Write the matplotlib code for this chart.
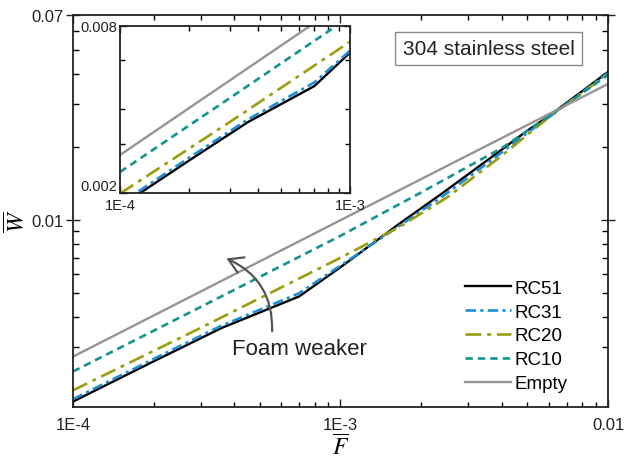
import matplotlib
matplotlib.use('Agg')
import matplotlib.pyplot as plt
from matplotlib.ticker import FixedLocator, NullFormatter, FixedFormatter

plt.rcParams['font.family'] = ['Liberation Sans', 'DejaVu Sans']
plt.rcParams['mathtext.fontset'] = 'stix'

# data (F bar vs W bar)
F_rc51 = [1e-4, 2e-4, 3.6e-4, 5e-4, 7e-4, 1e-3, 1.667e-3, 2.4e-3, 3.6e-3, 5e-3, 6e-3, 1e-2]
W_rc51 = [0.00179, 0.00262, 0.0036, 0.00417, 0.00485, 0.0064, 0.0097, 0.0129, 0.0179, 0.0234, 0.0268, 0.0408]

F_rc31 = [1e-4, 2e-4, 3.6e-4, 5e-4, 7e-4, 1e-3, 1.667e-3, 2.4e-3, 3.6e-3, 5e-3, 6e-3, 1e-2]
W_rc31 = [0.00183, 0.00268, 0.00368, 0.00428, 0.0050, 0.0065, 0.0095, 0.0125, 0.0174, 0.0229, 0.0265, 0.0404]

F_rc20 = [1e-4, 3e-4, 1e-3, 1.667e-3, 2.5e-3, 4e-3, 6e-3, 1e-2]
W_rc20 = [0.00199, 0.0036, 0.0070, 0.0094, 0.0124, 0.0184, 0.0265, 0.0400]

F_rc10 = [1e-4, 3e-4, 1e-3, 2e-3, 4e-3, 6e-3, 1e-2]
W_rc10 = [0.00238, 0.00439, 0.00862, 0.0130, 0.0198, 0.0267, 0.0396]

F_empty = [1e-4, 1e-3, 1e-2]
W_empty = [0.00274, 0.0100, 0.0364]

series = [
    ('RC51', F_rc51, W_rc51, '#000000', '-', 1.7),
    ('RC31', F_rc31, W_rc31, '#1a8fd8', (0, (4, 1.6, 1.2, 1.6)), 1.9),
    ('RC20', F_rc20, W_rc20, '#9c9c10', (0, (6, 2.2, 1.5, 2.2)), 1.9),
    ('RC10', F_rc10, W_rc10, '#14948f', (0, (2.8, 1.9)), 1.9),
    ('Empty', F_empty, W_empty, '#959595', '-', 1.7),
]

fig = plt.figure(figsize=(6.27, 4.64), dpi=100)
ax = fig.add_axes([0.1164, 0.1207, 0.8533, 0.8448])

for name, f, w, c, ls, lw in series:
    ax.plot(f, w, color=c, linestyle=ls, linewidth=lw, label=name)

ax.set_xscale('log')
ax.set_yscale('log')
ax.set_xlim(1e-4, 1e-2)
ax.set_ylim(0.0017, 0.07)

ax.xaxis.set_major_locator(FixedLocator([1e-4, 1e-3, 1e-2]))
ax.xaxis.set_major_formatter(FixedFormatter(['1E-4', '1E-3', '0.01']))
xminor = [m * 10.0 ** e for e in (-4, -3) for m in range(2, 10)]
ax.xaxis.set_minor_locator(FixedLocator(xminor))
ax.xaxis.set_minor_formatter(NullFormatter())

ax.yaxis.set_major_locator(FixedLocator([0.01, 0.07]))
ax.yaxis.set_major_formatter(FixedFormatter(['0.01', '0.07']))
yminor = [m * 1e-3 for m in range(3, 10)] + [m * 1e-2 for m in range(2, 7)]
ax.yaxis.set_minor_locator(FixedLocator(yminor))
ax.yaxis.set_minor_formatter(NullFormatter())

ax.tick_params(axis='x', which='major', direction='in', length=6, width=1, pad=7,
               labelsize=12, top=True, colors='#222222')
ax.tick_params(axis='x', which='minor', direction='in', length=3.5, width=1, top=True)
ax.tick_params(axis='y', which='major', direction='inout', length=10, width=1, pad=2,
               labelsize=12, right=True, colors='#222222')
ax.tick_params(axis='y', which='minor', direction='in', length=4.5, width=1, right=True)
for s in ax.spines.values():
    s.set_linewidth(1.3)
    s.set_color('#222222')

ax.set_xlabel(r'$\overline{F}$', fontsize=17, labelpad=2)
ax.set_ylabel(r'$\overline{W}$', fontsize=17)
ax.yaxis.set_label_coords(-0.08, 0.477)

leg = ax.legend(loc='upper left', bbox_to_anchor=(0.733, 0.325), frameon=False,
                fontsize=13.5, handlelength=2.45, handletextpad=0.2,
                labelspacing=0.36, borderpad=0, borderaxespad=0)

ax.text(0.7766, 0.9145, '304 stainless steel', transform=ax.transAxes,
        ha='center', va='center', fontsize=15, color='#222222',
        bbox=dict(boxstyle='square,pad=0.35', fc='white', ec='#8a8a8a', lw=1))

ax.text(0.4224, 0.1505, 'Foam weaker', transform=ax.transAxes,
        ha='center', va='center', fontsize=16, color='#222222')
ax.annotate('', xy=(0.282, 0.382), xycoords='axes fraction',
            xytext=(0.372, 0.186), textcoords='axes fraction',
            arrowprops=dict(arrowstyle='->,head_length=0.5,head_width=0.3',
                            color='#555555', lw=1.6, mutation_scale=20,
                            connectionstyle='arc3,rad=0.35'))

# inset: zoom of the low-force range
axin = fig.add_axes([0.1914, 0.5819, 0.3668, 0.3606])
for name, f, w, c, ls, lw in series:
    axin.plot(f, w, color=c, linestyle=ls, linewidth=lw)
axin.set_xscale('log')
axin.set_yscale('log')
axin.set_xlim(1e-4, 1e-3)
axin.set_ylim(0.002, 0.008)

axin.xaxis.set_major_locator(FixedLocator([1e-4, 1e-3]))
axin.xaxis.set_major_formatter(FixedFormatter(['1E-4', '1E-3']))
axin.xaxis.set_minor_locator(FixedLocator([m * 1e-4 for m in range(2, 10)]))
axin.xaxis.set_minor_formatter(NullFormatter())
axin.yaxis.set_major_locator(FixedLocator([0.002, 0.008]))
axin.yaxis.set_major_formatter(FixedFormatter(['0.002', '0.008']))
axin.yaxis.set_minor_locator(FixedLocator([0.003, 0.004, 0.006]))
axin.yaxis.set_minor_formatter(NullFormatter())
axin.tick_params(which='major', direction='in', length=5, width=1,
                 labelsize=10.5, top=True, right=True, colors='#222222')
axin.tick_params(which='minor', direction='in', length=3.5, width=1, top=True, right=True)
axin.tick_params(axis='x', which='major', pad=3.5)
axin.tick_params(axis='y', which='major', pad=2)
for s in axin.spines.values():
    s.set_linewidth(1.3)
    s.set_color('#222222')
# lift the bottom y label a little so it clears the 1E-4 label
axin.get_yticklabels()[0].set_va('bottom')

fig.savefig('out.png', dpi=100)
